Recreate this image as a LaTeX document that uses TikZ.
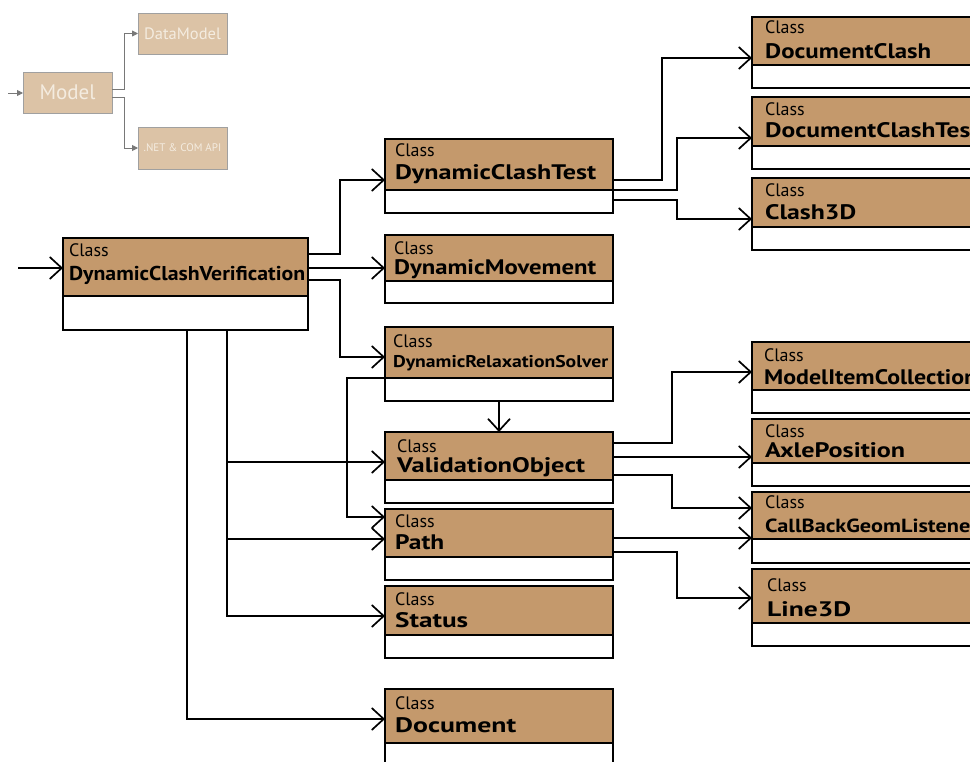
\documentclass[tikz,border=0pt]{standalone}
\usepackage{fontspec}
\usepackage{graphicx}
\setmainfont{PT Sans}
\usetikzlibrary{arrows.meta,calc}

\definecolor{hdrfill}{RGB}{196,153,108}
\definecolor{fadefill}{RGB}{220,195,166}
\definecolor{fadetext}{RGB}{244,236,224}
\definecolor{fadeline}{RGB}{120,120,120}
\definecolor{fadeborder}{RGB}{160,160,160}

\tikzset{
  hdrbox/.style={draw=black, line width=1.6pt, fill=hdrfill, inner sep=0pt, outer sep=0pt},
  bodybox/.style={draw=black, line width=1.6pt, fill=white, inner sep=0pt, outer sep=0pt},
  kindword/.style={inner sep=0pt, font=\fontsize{18}{18}\selectfont},
  classname/.style={inner sep=0pt, font=\fontsize{21}{21}\selectfont\bfseries},
  link/.style={draw=black, line width=1.7pt,
    -{Straight Barb[length=12pt,width=22pt,line width=1.7pt]}},
  fadebox/.style={draw=fadeborder, line width=0.8pt, fill=fadefill, text=fadetext,
    inner sep=0pt, outer sep=0pt},
  fadelink/.style={draw=fadeline, line width=0.9pt,
    -{Triangle[length=6pt,width=6pt]}},
}

% #1 id, #2 top-left corner, #3 width, #4 header height, #5 body height,
% #6 text indent, #7 baseline of "Class", #8 baseline of the name, #9 name
\newcommand\umlbox[9]{%
  \node[hdrbox, minimum width=#3pt, minimum height=#4pt, anchor=north west] (#1) at (#2) {};
  \node[bodybox, minimum width=#3pt, minimum height=#5pt, anchor=north west] (#1-body) at (#1.south west) {};
  \node[kindword, anchor=base west] (#1-kind) at ($(#1.north west)+(#6,#7)$) {Class};
  \node[classname, anchor=base west] (#1-name) at ($(#1.north west)+(#6,#8)$) {#9};
}
\newcommand\nm[2]{\resizebox{#1pt}{\height}{#2}}

\begin{document}
\begin{tikzpicture}[x=1pt, y=-1pt]
\clip (0,0) rectangle (970,762);
\fill[white] (0,0) rectangle (970,762);

% faded overview in the corner
\node[fadebox, minimum width=89pt, minimum height=41pt, anchor=north west,
      font=\fontsize{21}{21}\selectfont] (model) at (23,72) {Model};
\node[fadebox, minimum width=89pt, minimum height=41pt, anchor=north west,
      font=\fontsize{16.5}{16.5}\selectfont] (datamodel) at (138,13) {DataModel};
\node[fadebox, minimum width=89pt, minimum height=42pt, anchor=north west,
      font=\fontsize{11}{11}\selectfont] (netapi) at (138,127) {.NET \& COM API};
\coordinate (modelentry) at (8,93);
\draw[fadelink] (modelentry) -- (modelentry -| model.west);
\draw[fadelink] ($(model.north east)+(0,17)$) -- ++(12,0) |- (datamodel.west);
\draw[fadelink] ($(model.north east)+(0,25)$) -- ++(12,0) |- (netapi.west);

% class boxes
\umlbox{dcv}{63,238}{245}{58}{34}{6}{19}{42}{\fontsize{20}{20}\selectfont\nm{236}{DynamicClashVerification}}
\umlbox{dct}{385,139}{228}{51}{23}{10}{18}{41}{\nm{201}{DynamicClashTest}}
\umlbox{dmv}{385,235}{228}{46}{22}{9}{20}{40}{\nm{202}{DynamicMovement}}
\umlbox{drs}{385,327}{228}{51}{23}{8}{21}{41}{\fontsize{17}{17}\selectfont\nm{215}{DynamicRelaxationSolver}}
\umlbox{vo}{385,432}{228}{48}{23}{12}{20}{40}{\nm{188}{ValidationObject}}
\umlbox{path}{385,509}{228}{48}{23}{10}{18}{40}{\nm{49}{Path}}
\umlbox{status}{385,586}{228}{49}{23}{10}{19}{41}{\nm{73}{Status}}
\umlbox{doc}{385,689}{228}{54}{40}{10}{20}{43}{\nm{121}{Document}}

\umlbox{dc}{752,17}{240}{48}{23}{13}{17}{42}{\nm{166}{DocumentClash}}
\umlbox{dctest}{752,97}{240}{49}{23}{13}{19}{41}{\nm{214}{DocumentClashTest}}
\umlbox{c3d}{752,178}{240}{49}{23}{13}{19}{42}{\nm{91}{Clash3D}}
\umlbox{mic}{752,342}{240}{48}{23}{12}{19}{42}{\nm{213}{ModelItemCollection}}
\umlbox{axle}{752,419}{240}{44}{23}{13}{18}{38}{\nm{140}{AxlePosition}}
\umlbox{cbgl}{752,492}{240}{47}{24}{13}{16}{40}{\fontsize{19}{19}\selectfont\nm{213}{CallBackGeomListener}}
\umlbox{l3d}{752,569}{240}{54}{23}{15}{22}{47}{\nm{84}{Line3D}}

% connectors
\coordinate (entry) at (18,268);
\draw[link] (entry) -- (entry -| dcv.west);
\draw[link] ($(dcv.north east)+(0,16)$) -- ++(32,0) |- ($(dct.north west)+(0,41)$);
\draw[link] ($(dcv.north east)+(0,30)$) -- ($(dmv.north west)+(0,33)$);
\draw[link] ($(dcv.north east)+(0,42)$) -- ++(32,0) |- ($(drs.north west)+(0,30)$);
\draw[link] ($(dcv-body.south west)+(164,0)$) |- ($(vo.north west)+(0,30)$);
\draw[link] ($(dcv-body.south west)+(164,0)$) |- ($(path.north west)+(0,30)$);
\draw[link] ($(dcv-body.south west)+(164,0)$) |- ($(status.north west)+(0,30)$);
\draw[link] ($(dcv-body.south west)+(124,0)$) |- ($(doc.north west)+(0,30)$);

\draw[link] (drs.south west) -- ++(-38,0) |- ($(path.north west)+(0,8)$);
\draw[link] ($(drs-body.south west)+(114,0)$) -- ($(vo.north west)+(114,0)$);

\draw[link] ($(dct.north east)+(0,41)$) -- ++(49,0) |- ($(dc.north west)+(0,41)$);
\draw[link] (dct.south east) -- ++(64,0) |- ($(dctest.north west)+(0,41)$);
\draw[link] ($(dct-body.north east)+(0,10)$) -- ++(64,0) |- ($(c3d.north west)+(0,41)$);

\draw[link] ($(vo.north east)+(0,11)$) -- ++(59,0) |- ($(mic.north west)+(0,30)$);
\draw[link] ($(vo.north east)+(0,25)$) -- ($(axle.north west)+(0,38)$);
\draw[link] ($(vo.north east)+(0,43)$) -- ++(59,0) |- ($(cbgl.north west)+(0,16)$);

\draw[link] ($(path.north east)+(0,29)$) -- ($(cbgl.north west)+(0,46)$);
\draw[link] ($(path.north east)+(0,43)$) -- ++(64,0) |- ($(l3d.north west)+(0,29)$);
\end{tikzpicture}
\end{document}
